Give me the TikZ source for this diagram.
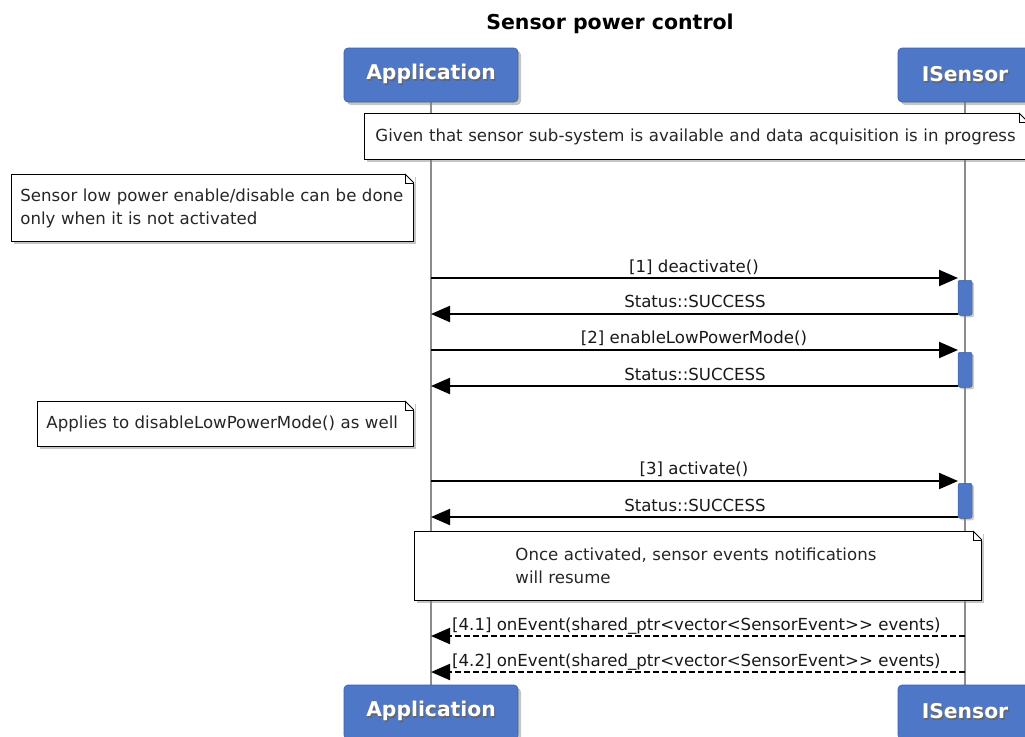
\documentclass[tikz,border=0pt]{standalone}
\usepackage{fontspec}
\setmainfont{DejaVu Sans}
\usetikzlibrary{shadows,arrows.meta}
\definecolor{partblue}{RGB}{78,120,199}
\definecolor{lifegray}{RGB}{140,140,140}
\newcommand{\shtext}[1]{\makebox[0pt][l]{\raisebox{-1.4pt}{\hspace{1.4pt}\textcolor{black!60}{#1}}}#1}
\begin{document}
\begin{tikzpicture}[x=1pt,y=-1pt,
  part/.style={rectangle,rounded corners=4pt,fill=partblue,draw=partblue!80!black,line width=0.6pt,
    text=white,font=\fontsize{20.3}{23}\selectfont\bfseries,inner sep=0pt,
    minimum height=54pt,drop shadow={shadow xshift=3pt,shadow yshift=-3pt,opacity=0.45}},
  notebox/.style={rectangle,fill=white,draw=black,line width=0.9pt,inner xsep=9pt,inner ysep=0pt,
    drop shadow={shadow xshift=3pt,shadow yshift=-3pt,opacity=0.45},
    font=\fontsize{16.6}{23}\selectfont,text=black!85,align=left},
  actbar/.style={rectangle,rounded corners=2pt,fill=partblue,draw=partblue!80!black,line width=0.5pt,
    minimum width=14pt,inner sep=0pt,drop shadow={shadow xshift=2pt,shadow yshift=-2pt,opacity=0.4}},
  life/.style={draw=lifegray,line width=1.2pt},
  msg/.style={draw=black,line width=2pt,-{Triangle[length=19pt,width=16pt]}},
  dmsg/.style={msg,dash pattern=on 6pt off 3pt},
  lbl/.style={font=\fontsize{16.6}{20}\selectfont,text=black!90,inner sep=0pt,anchor=base},
  fold/.style={line width=0.6pt}
]
\useasboundingbox (0,0) rectangle (1025,736);
\clip (0,0) rectangle (1025,736);
\fill[white] (0,0) rectangle (1025,736);

% title
\node[font=\fontsize{20.5}{23}\selectfont\bfseries,anchor=base] (title) at (610,29) {Sensor power control};

% lifelines
\coordinate (la) at (431,102);
\coordinate (lab) at (431,686);
\coordinate (ls) at (965,102);
\coordinate (lsb) at (965,686);
\draw[life] (la) -- (lab);
\draw[life] (ls) -- (lsb);

% participants
\node[part,minimum width=174pt] (A) at (431,75) {\shtext{Application}};
\node[part,minimum width=134pt] (S) at (965,75) {\shtext{ISensor}};
\node[part,minimum width=174pt] (A2) at (431,712) {\shtext{Application}};
\node[part,minimum width=134pt] (S2) at (965,712) {\shtext{ISensor}};

% note 1
\node[notebox,minimum width=663pt,minimum height=46pt,anchor=north west,text width=645pt] (n1) at (364,113) {\hspace*{2pt}\mbox{Given that sensor sub-system is available and data acquisition is in progress}};
\fill[white] ([xshift=-9pt]n1.north east) -- ([xshift=1pt]n1.north east) -- ([xshift=1pt,yshift=-10pt]n1.north east) -- cycle;
\draw[line width=0.9pt] ([xshift=-9pt]n1.north east) -- ([yshift=-9pt]n1.north east);
\draw[fold] ([xshift=-9pt]n1.north east) -- ([xshift=-9pt,yshift=-9pt]n1.north east) -- ([yshift=-9pt]n1.north east);

% note 2
\node[notebox,minimum width=402pt,minimum height=67pt,anchor=north west,text width=384pt] (n2) at (11,174) {\mbox{Sensor low power enable/disable can be done}\\\mbox{only when it is not activated}};
\fill[white] ([xshift=-9pt]n2.north east) -- ([xshift=1pt]n2.north east) -- ([xshift=1pt,yshift=-10pt]n2.north east) -- cycle;
\draw[line width=0.9pt] ([xshift=-9pt]n2.north east) -- ([yshift=-9pt]n2.north east);
\draw[fold] ([xshift=-9pt]n2.north east) -- ([xshift=-9pt,yshift=-9pt]n2.north east) -- ([yshift=-9pt]n2.north east);

% messages 1
\node[actbar,minimum height=35pt,anchor=north] (b1) at (965,280) {};
\coordinate (m1a) at (431,278);
\coordinate (m1b) at (958,278);
\draw[msg] (m1a) -- (m1b);
\node[lbl] (t1) at (694,272) {[1] deactivate()};
\coordinate (r1a) at (958,314);
\coordinate (r1b) at (431,314);
\draw[msg] (r1a) -- (r1b);
\node[lbl] (t1r) at (695,307) {Status::SUCCESS};

% messages 2
\node[actbar,minimum height=35pt,anchor=north] (b2) at (965,352) {};
\coordinate (m2a) at (431,350);
\coordinate (m2b) at (958,350);
\draw[msg] (m2a) -- (m2b);
\node[lbl] (t2) at (694,343) {[2] enableLowPowerMode()};
\coordinate (r2a) at (958,386);
\coordinate (r2b) at (431,386);
\draw[msg] (r2a) -- (r2b);
\node[lbl] (t2r) at (695,380) {Status::SUCCESS};

% note 3
\node[notebox,minimum width=376pt,minimum height=45pt,anchor=north west,text width=358pt] (n3) at (37,401) {\mbox{Applies to disableLowPowerMode() as well}};
\fill[white] ([xshift=-9pt]n3.north east) -- ([xshift=1pt]n3.north east) -- ([xshift=1pt,yshift=-10pt]n3.north east) -- cycle;
\draw[line width=0.9pt] ([xshift=-9pt]n3.north east) -- ([yshift=-9pt]n3.north east);
\draw[fold] ([xshift=-9pt]n3.north east) -- ([xshift=-9pt,yshift=-9pt]n3.north east) -- ([yshift=-9pt]n3.north east);

% messages 3
\node[actbar,minimum height=35pt,anchor=north] (b3) at (965,483) {};
\coordinate (m3a) at (431,481);
\coordinate (m3b) at (958,481);
\draw[msg] (m3a) -- (m3b);
\node[lbl] (t3) at (694,474) {[3] activate()};
\coordinate (r3a) at (958,517);
\coordinate (r3b) at (431,517);
\draw[msg] (r3a) -- (r3b);
\node[lbl] (t3r) at (695,511) {Status::SUCCESS};

% note 4
\node[notebox,minimum width=567pt,minimum height=69pt,anchor=north west,text width=549pt] (n4) at (414,531) {\hspace*{92pt}\mbox{Once activated, sensor events notifications}\\\hspace*{92pt}\mbox{will resume}};
\fill[white] ([xshift=-9pt]n4.north east) -- ([xshift=1pt]n4.north east) -- ([xshift=1pt,yshift=-10pt]n4.north east) -- cycle;
\draw[line width=0.9pt] ([xshift=-9pt]n4.north east) -- ([yshift=-9pt]n4.north east);
\draw[fold] ([xshift=-9pt]n4.north east) -- ([xshift=-9pt,yshift=-9pt]n4.north east) -- ([yshift=-9pt]n4.north east);

% events
\coordinate (e1a) at (965,636);
\coordinate (e1b) at (431,636);
\draw[dmsg] (e1a) -- (e1b);
\node[lbl,anchor=base west] (te1) at (452,630) {[4.1] onEvent(shared\_ptr<vector<SensorEvent>{}> events)};
\coordinate (e2a) at (965,672);
\coordinate (e2b) at (431,672);
\draw[dmsg] (e2a) -- (e2b);
\node[lbl,anchor=base west] (te2) at (452,666) {[4.2] onEvent(shared\_ptr<vector<SensorEvent>{}> events)};
\end{tikzpicture}
\end{document}
